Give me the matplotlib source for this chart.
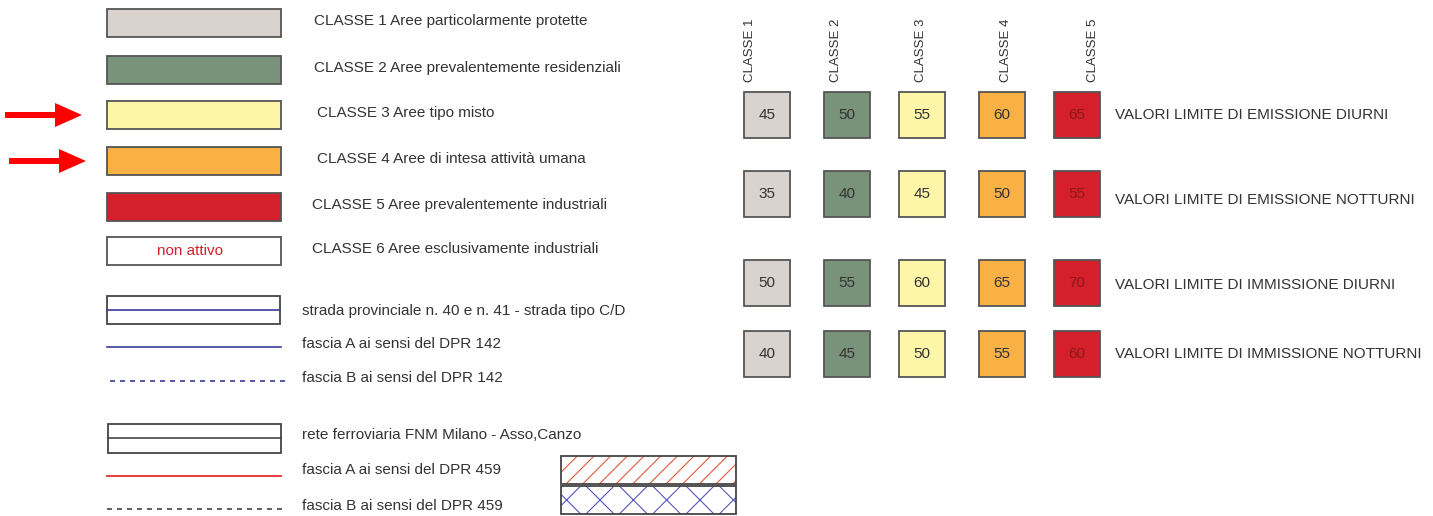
import matplotlib as mpl
mpl.use('Agg')
import matplotlib.pyplot as plt
from matplotlib.patches import Rectangle, FancyArrow

# legend entries (left)
classi = ["CLASSE 1 Aree particolarmente protette",
          "CLASSE 2 Aree prevalentemente residenziali",
          "CLASSE 3 Aree tipo misto",
          "CLASSE 4 Aree di intesa attività umana",
          "CLASSE 5 Aree prevalentemente industriali",
          "CLASSE 6 Aree esclusivamente industriali"]
colori = ["#d9d2cf", "#78937a", "#fdf6a8", "#f9b146", "#d51f2a", "white"]
frecce = [2, 3]  # classes highlighted with red arrows

strade = ["strada provinciale n. 40 e n. 41 - strada tipo C/D",
          "fascia A ai sensi del DPR 142",
          "fascia B ai sensi del DPR 142"]
ferrovia = ["rete ferroviaria FNM Milano - Asso,Canzo",
            "fascia A ai sensi del DPR 459",
            "fascia B ai sensi del DPR 459"]

# limit values table (right)
col_labels = ["CLASSE 1", "CLASSE 2", "CLASSE 3", "CLASSE 4", "CLASSE 5"]
row_labels = ["VALORI LIMITE DI EMISSIONE DIURNI",
              "VALORI LIMITE DI EMISSIONE NOTTURNI",
              "VALORI LIMITE DI IMMISSIONE DIURNI",
              "VALORI LIMITE DI IMMISSIONE NOTTURNI"]
emiss_diurni = [45, 50, 55, 60, 65]
emiss_notturni = [35, 40, 45, 50, 55]
immis_diurni = [50, 55, 60, 65, 70]
immis_notturni = [40, 45, 50, 55, 60]
valori = [emiss_diurni, emiss_notturni, immis_diurni, immis_notturni]

plt.rcParams['font.family'] = ['Liberation Sans Narrow', 'Liberation Sans', 'DejaVu Sans']
txt = "#333333"
edge = "#555555"

fig = plt.figure(figsize=(14.33, 5.16), dpi=100)
ax = fig.add_axes([0, 0, 1, 1])
ax.set_xlim(0, 1433)
ax.set_ylim(516, 0)
ax.axis('off')

# classes
class_y = [23, 70, 115, 161, 207, 251]
class_tx = [314, 314, 317, 317, 312, 312]
for i, (name, c) in enumerate(zip(classi, colori)):
    y = class_y[i]
    ax.add_patch(Rectangle((107, y - 14), 174, 28, fc=c, ec=edge, lw=1.3))
    ax.text(class_tx[i], y - 2, name, fontsize=11, color=txt, va='center', ha='left')
    if i == 5:
        ax.text(190, y, "non attivo", fontsize=11, color="#d51f2a", va='center', ha='center')
    if i in frecce:
        x0 = 5 if i == 2 else 9
        ax.add_patch(FancyArrow(x0, y, 77, 0, width=6, head_width=24, head_length=27,
                                length_includes_head=True, color="#ff0000", lw=0))

# roads
ax.add_patch(Rectangle((107, 296), 173, 28, fc='white', ec="#444444", lw=1.3))
ax.plot([107, 280], [310, 310], color="#3b3b9a", lw=1.2)
ax.plot([107, 281], [347, 347], color="#3b3b9a", lw=1.2)
ax.plot([110, 285], [381, 381], color="#3b3b9a", lw=1.2, ls=(0, (3, 3)))
for lab, y in zip(strade, [311, 344, 378]):
    ax.text(302, y, lab, fontsize=11, color=txt, va='center', ha='left')

# railway
ax.add_patch(Rectangle((108, 424), 173, 29, fc='white', ec="#444444", lw=1.3))
ax.plot([108, 281], [438, 438], color="#444444", lw=1.2)
ax.plot([107, 281], [476, 476], color="#e03030", lw=1.3)
ax.plot([107, 285], [509, 509], color="#444444", lw=1.2, ls=(0, (3, 3)))
for lab, y in zip(ferrovia, [435, 470, 506]):
    ax.text(302, y, lab, fontsize=11, color=txt, va='center', ha='left')

mpl.rcParams['hatch.linewidth'] = 0.8
ax.add_patch(Rectangle((561, 456), 175, 28, fc='white', ec="#e05a3a", lw=0, hatch='//'))
ax.add_patch(Rectangle((561, 456), 175, 28, fc='none', ec="#444444", lw=1.3))
ax.add_patch(Rectangle((561, 486), 175, 28, fc='white', ec="#5555bb", lw=0, hatch='x'))
ax.add_patch(Rectangle((561, 486), 175, 28, fc='none', ec="#444444", lw=1.3))

# table of limit values
col_x = [767, 847, 922, 1002, 1077]
lab_x = [750, 836, 921, 1006, 1093]
row_y = [115, 194, 283, 354]
label_y = [115, 200, 285, 354]
for j, lab in enumerate(col_labels):
    ax.text(lab_x[j], 82, lab, fontsize=9.5, color=txt, rotation=90,
            va='bottom', ha='center', family=['Liberation Sans', 'DejaVu Sans'])
for i, vals in enumerate(valori):
    for j, v in enumerate(vals):
        ax.add_patch(Rectangle((col_x[j] - 23, row_y[i] - 23), 46, 46,
                               fc=colori[j], ec=edge, lw=1.3))
        tc = "#8a1a1a" if j == 4 else txt
        ax.text(col_x[j], row_y[i], str(v), fontsize=11, color=tc, va='center', ha='center')
    ax.text(1115, label_y[i], row_labels[i], fontsize=11, color=txt, va='center', ha='left')

fig.savefig("out.png", dpi=100)
